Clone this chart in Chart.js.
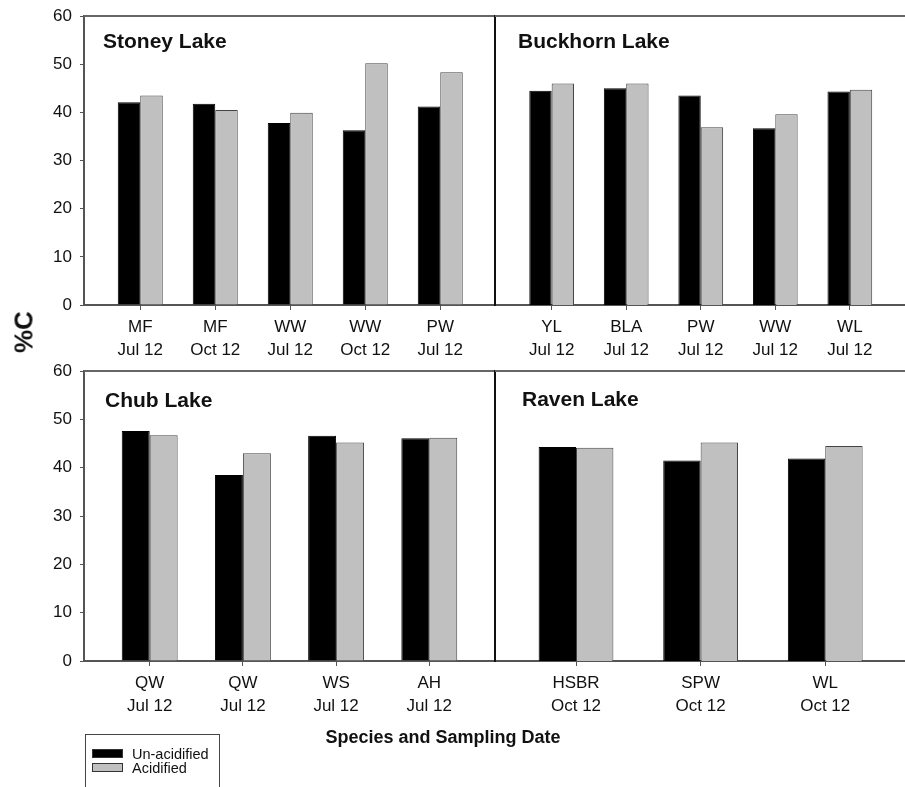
<!DOCTYPE html>
<html>
<head>
<meta charset="utf-8">
<script src="https://cdn.jsdelivr.net/npm/chart.js@4/dist/chart.umd.min.js"></script>
<style>
  body { margin: 0; background: #fff; font-family: "Liberation Sans", Arial, sans-serif; }
  #page { position: relative; width: 905px; height: 787px; overflow: hidden; }
  .panel { position: absolute; }
  #yTitle { position: absolute; left: 24px; top: 332px; transform: translate(-50%, -50%) rotate(-90deg);
    font-weight: bold; font-size: 26px; color: #111; white-space: nowrap; }
  #xTitle { position: absolute; left: 443px; top: 737px; transform: translate(-50%, -50%);
    font-weight: bold; font-size: 18px; color: #111; white-space: nowrap; }
  #legend { position: absolute; left: 85px; top: 734px; width: 135px; height: 70px; border: 1px solid #444; box-sizing: border-box; }
  .item { position: absolute; left: 6px; font-size: 14.5px; color: #111; height: 14px; line-height: 14px; }
  .swatch { position: absolute; left: 0; top: 2px; width: 31px; height: 9px; box-sizing: border-box; border: 1px solid #333; }
  .item span.txt { position: absolute; left: 40px; white-space: nowrap; }
</style>
</head>
<body>
<div id="page">
  <div class="panel" style="left:0;top:0;width:495px;height:370px"><canvas id="stoney"></canvas></div>
  <div class="panel" style="left:480px;top:0;width:425px;height:370px"><canvas id="buckhorn"></canvas></div>
  <div class="panel" style="left:0;top:355px;width:495px;height:432px"><canvas id="chub"></canvas></div>
  <div class="panel" style="left:480px;top:355px;width:425px;height:432px"><canvas id="raven"></canvas></div>
  <div id="yTitle">%C</div>
  <div id="xTitle">Species and Sampling Date</div>
  <div id="legend"></div>
</div>
<script>
// series
const seriesNames = ["Un-acidified", "Acidified"];
const seriesColors = ["#000000", "#c0c0c0"];

// Stoney Lake
const stoneyLabels = [["MF", "Jul 12"], ["MF", "Oct 12"], ["WW", "Jul 12"], ["WW", "Oct 12"], ["PW", "Jul 12"]];
const stoneyUnacid = [42.1, 41.8, 37.8, 36.3, 41.2];
const stoneyAcid = [43.5, 40.5, 39.9, 50.2, 48.3];

// Buckhorn Lake
const buckhornLabels = [["YL", "Jul 12"], ["BLA", "Jul 12"], ["PW", "Jul 12"], ["WW", "Jul 12"], ["WL", "Jul 12"]];
const buckhornUnacid = [44.5, 45.0, 43.5, 36.7, 44.3];
const buckhornAcid = [46.0, 46.0, 36.9, 39.6, 44.7];

// Chub Lake
const chubLabels = [["QW", "Jul 12"], ["QW", "Jul 12"], ["WS", "Jul 12"], ["AH", "Jul 12"]];
const chubUnacid = [47.6, 38.5, 46.6, 46.1];
const chubAcid = [46.7, 43.0, 45.2, 46.2];

// Raven Lake
const ravenLabels = [["HSBR", "Oct 12"], ["SPW", "Oct 12"], ["WL", "Oct 12"]];
const ravenUnacid = [44.3, 41.5, 41.9];
const ravenAcid = [44.1, 45.2, 44.5];

const yTicks = [0, 10, 20, 30, 40, 50, 60];

const FONT = "'Liberation Sans', Arial, sans-serif";

// top frame line + lake name inside the plot
const panelDeco = {
  id: "panelDeco",
  afterDraw(chart, args, opts) {
    const { ctx, chartArea } = chart;
    ctx.save();
    ctx.strokeStyle = "#666";
    ctx.lineWidth = 2;
    ctx.beginPath();
    ctx.moveTo(chartArea.left, chartArea.top);
    ctx.lineTo(chartArea.right, chartArea.top);
    ctx.stroke();
    ctx.fillStyle = "#111";
    ctx.font = "bold 21px " + FONT;
    ctx.textBaseline = "middle";
    ctx.fillText(opts.text, chartArea.left + opts.dx, chartArea.top + opts.dy);
    ctx.restore();
  }
};

function makePanel(id, name, labels, unacid, acid, o) {
  const toPts = arr => arr.map((v, i) => ({ x: i + 1, y: v }));
  return new Chart(document.getElementById(id), {
    type: "bar",
    data: {
      datasets: [
        { label: seriesNames[0], data: toPts(unacid), backgroundColor: seriesColors[0], borderColor: "#000", borderWidth: 1 },
        { label: seriesNames[1], data: toPts(acid), backgroundColor: seriesColors[1], borderColor: "#444", borderWidth: 1 }
      ]
    },
    options: {
      responsive: true,
      maintainAspectRatio: false,
      animation: false,
      categoryPercentage: 0.6,
      barPercentage: 1.0,
      layout: { padding: { top: 16, right: 0, left: 0, bottom: 0 } },
      plugins: {
        legend: { display: false },
        tooltip: { enabled: false },
        panelDeco: { text: name, dx: o.dx, dy: o.dy }
      },
      scales: {
        x: {
          type: "linear",
          offset: false,
          min: o.xmin,
          max: o.xmax,
          afterBuildTicks: axis => { axis.ticks = labels.map((_, i) => ({ value: i + 1 })); },
          afterFit: axis => { axis.height = o.xh; axis.paddingLeft = 0; axis.paddingRight = 0; },
          ticks: {
            callback: v => labels[Math.round(v) - 1],
            color: "#111",
            font: { family: FONT, size: 17, lineHeight: "23px" },
            padding: 6,
            maxRotation: 0,
            autoSkip: false
          },
          grid: { offset: false, drawOnChartArea: false, drawTicks: true, tickLength: 5, color: "#555" },
          border: { color: "#555", width: 2 }
        },
        y: {
          min: 0,
          max: 60,
          afterBuildTicks: axis => { axis.ticks = yTicks.map(v => ({ value: v })); },
          afterFit: axis => { axis.width = o.yw; axis.paddingTop = 0; axis.paddingBottom = 0; },
          ticks: {
            display: o.showY,
            color: "#111",
            font: { family: FONT, size: 17 },
            padding: 8
          },
          grid: { display: o.showY, drawOnChartArea: false, drawTicks: true, tickLength: 4, color: "#555" },
          border: { color: o.showY ? "#555" : "#111", width: 2 }
        }
      }
    },
    plugins: [panelDeco]
  });
}

makePanel("stoney", "Stoney Lake", stoneyLabels, stoneyUnacid, stoneyAcid,
  { xmin: 0.25, xmax: 5.73, xh: 65, yw: 84, showY: true, dx: 19, dy: 26 });
makePanel("buckhorn", "Buckhorn Lake", buckhornLabels, buckhornUnacid, buckhornAcid,
  { xmin: 0.24, xmax: 5.74, xh: 65, yw: 15, showY: false, dx: 23, dy: 26 });
makePanel("chub", "Chub Lake", chubLabels, chubUnacid, chubAcid,
  { xmin: 0.295, xmax: 4.705, xh: 126, yw: 84, showY: true, dx: 21, dy: 30 });
makePanel("raven", "Raven Lake", ravenLabels, ravenUnacid, ravenAcid,
  { xmin: 0.35, xmax: 3.64, xh: 126, yw: 15, showY: false, dx: 27, dy: 29 });

// legend box
const legend = document.getElementById("legend");
seriesNames.forEach((name, i) => {
  const row = document.createElement("div");
  row.className = "item";
  row.style.top = (12 + i * 14) + "px";
  row.innerHTML = '<div class="swatch" style="background:' + seriesColors[i] + '"></div><span class="txt">' + name + "</span>";
  legend.appendChild(row);
});
</script>
</body>
</html>
